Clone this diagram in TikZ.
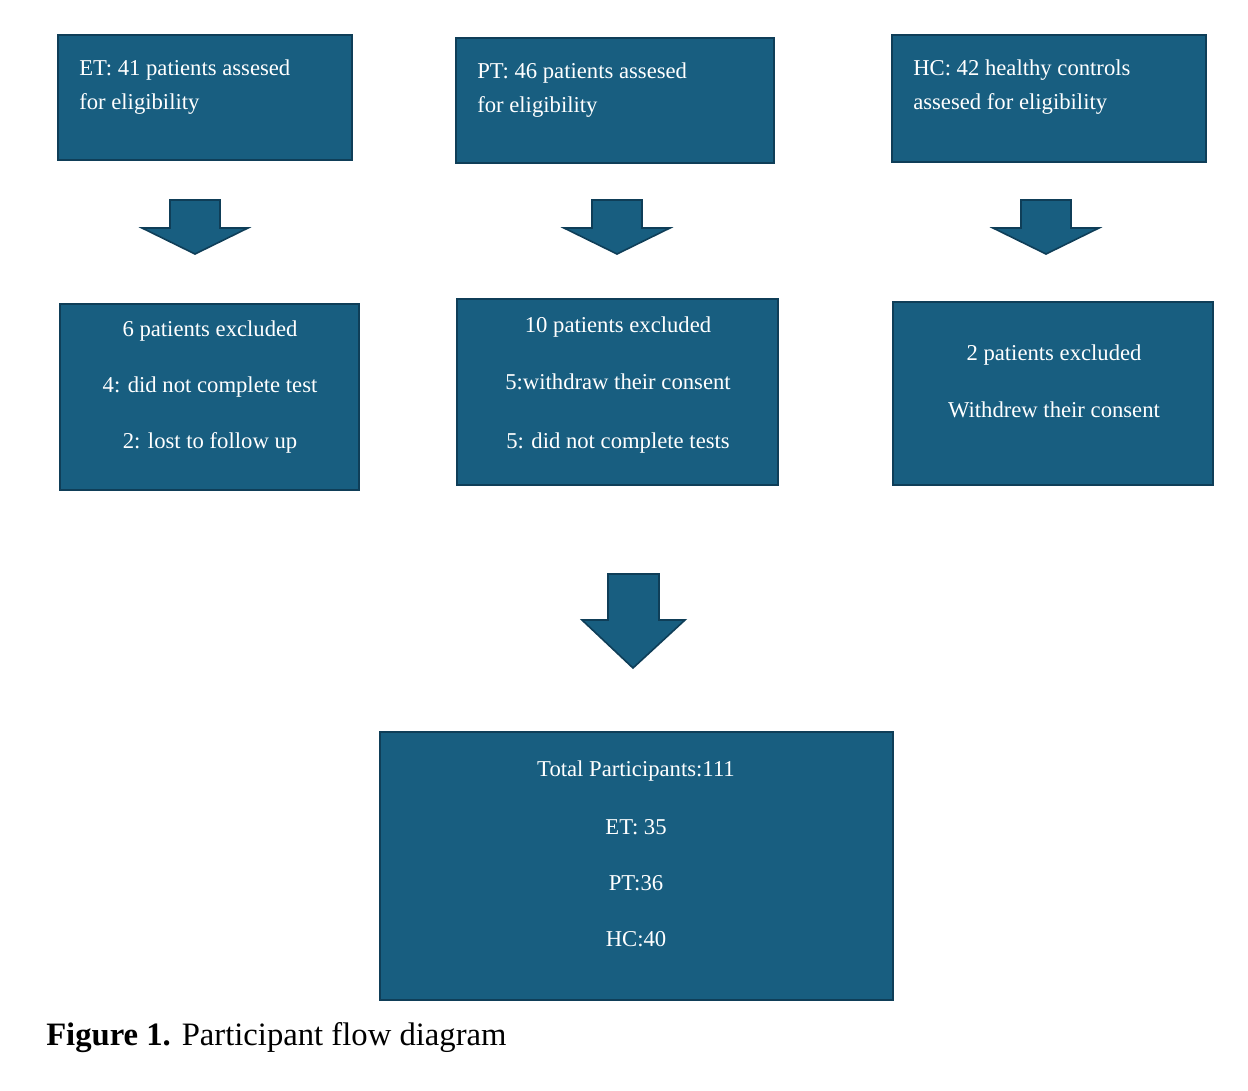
\documentclass[tikz,border=0pt]{standalone}
\usepackage{fontspec}
\setmainfont{Liberation Serif}
\begin{document}
\begin{tikzpicture}[x=0.75pt,y=-0.75pt,
  box/.style={draw=boxb,fill=boxf,line width=1.5pt},
  arr/.style={draw=boxb,fill=boxf,line width=1.2pt},
  t/.style={text=white,font=\fontsize{17}{20}\selectfont,inner sep=0pt}]
\definecolor{boxf}{HTML}{185E80}
\definecolor{boxb}{HTML}{0F3E58}
\useasboundingbox (0,0) rectangle (1248,1090);
\draw[box] (58,35) rectangle (352,160);
\draw[box] (456,38) rectangle (774,163);
\draw[box] (892,35) rectangle (1206,162);
\draw[box] (60,304) rectangle (359,490);
\draw[box] (457,299) rectangle (778,485);
\draw[box] (893,302) rectangle (1213,485);
\draw[box] (380,732) rectangle (893,1000);
\node[t,anchor=west] (a1) at (79,70) {ET: 41 patients assesed};
\node[t,anchor=west] (a2) at (79,104) {for eligibility};
\node[t,anchor=west] (b1) at (477,73) {PT: 46 patients assesed};
\node[t,anchor=west] (b2) at (477,107) {for eligibility};
\node[t,anchor=west] (c1) at (913,70) {HC: 42 healthy controls};
\node[t,anchor=west] (c2) at (913,104) {assesed for eligibility};
\node[t] (d1) at (210,331) {6 patients excluded};
\node[t] (d2) at (210,387) {4: did not complete test};
\node[t] (d3) at (210,443) {2: lost to follow up};
\node[t] (e1) at (618,327) {10 patients excluded};
\node[t] (e2) at (618,382) {5:withdraw their consent};
\node[t] (e3) at (618,443) {5: did not complete tests};
\node[t] (f1) at (1054,355) {2 patients excluded};
\node[t] (f2) at (1054,410) {Withdrew their consent};
\node[t] (g1) at (636,771) {Total Participants:111};
\node[t] (g2) at (636,827) {ET: 35};
\node[t] (g3) at (636,883) {PT:36};
\node[t] (g4) at (636,939) {HC:40};
\foreach \c in {195,617,1046}{
  \draw[arr] (\c-25,200) -- (\c+25,200) -- (\c+25,228) -- (\c+53,228) -- (\c,254) -- (\c-53,228) -- (\c-25,228) -- cycle;}
\draw[arr] (608,574) -- (659,574) -- (659,620) -- (685,620) -- (633,668) -- (582,620) -- (608,620) -- cycle;
\node[anchor=west,inner sep=0pt,font=\fontsize{24.5}{28}\selectfont] (cap) at (46,1038) {\textbf{Figure 1.} Participant flow diagram};
\end{tikzpicture}
\end{document}
